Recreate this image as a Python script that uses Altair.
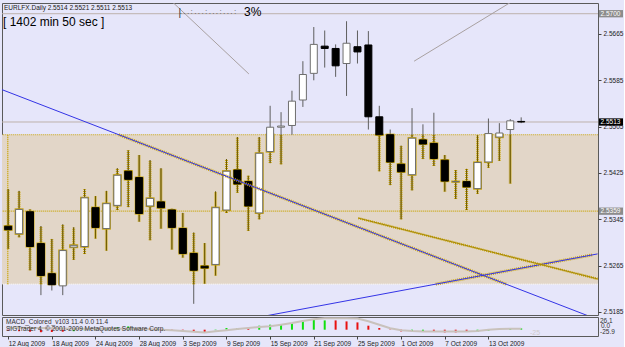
import altair as alt
import pandas as pd

# ---------------- data ----------------
dates = ["12 Aug 2009","13 Aug 2009","14 Aug 2009","17 Aug 2009","18 Aug 2009","19 Aug 2009",
         "20 Aug 2009","21 Aug 2009","24 Aug 2009","25 Aug 2009","26 Aug 2009","27 Aug 2009",
         "28 Aug 2009","31 Aug 2009","1 Sep 2009","2 Sep 2009","3 Sep 2009","4 Sep 2009",
         "7 Sep 2009","8 Sep 2009","9 Sep 2009","10 Sep 2009","11 Sep 2009","14 Sep 2009",
         "15 Sep 2009","16 Sep 2009","17 Sep 2009","18 Sep 2009","21 Sep 2009","22 Sep 2009",
         "23 Sep 2009","24 Sep 2009","25 Sep 2009","28 Sep 2009","29 Sep 2009","30 Sep 2009",
         "1 Oct 2009","2 Oct 2009","5 Oct 2009","6 Oct 2009","7 Oct 2009","8 Oct 2009",
         "9 Oct 2009","12 Oct 2009","13 Oct 2009","14 Oct 2009","15 Oct 2009","16 Oct 2009"]

opens = [2.5333,2.5320,2.5358,2.5303,2.5251,2.5230,2.5297,2.5298,2.5365,2.5329,2.5369,2.5428,
         2.5417,2.5368,2.5375,2.5361,2.5329,2.5286,2.5264,2.5267,2.5361,2.5430,2.5410,2.5356,
         2.5462,2.5504,2.5507,2.5551,2.5597,2.5644,2.5640,2.5614,2.5643,2.5646,2.5522,2.5491,
         2.5440,2.5422,2.5482,2.5476,2.5447,2.5410,2.5410,2.5398,2.5444,2.5487,2.5500,2.5514]
highs = [2.5397,2.5394,2.5362,2.5333,2.5311,2.5336,2.5331,2.5397,2.5385,2.5394,2.5433,2.5464,
         2.5456,2.5447,2.5433,2.5363,2.5356,2.5322,2.5304,2.5393,2.5449,2.5487,2.5420,2.5487,
         2.5541,2.5530,2.5567,2.5618,2.5677,2.5671,2.5647,2.5687,2.5671,2.5670,2.5541,2.5500,
         2.5472,2.5537,2.5509,2.5529,2.5456,2.5430,2.5432,2.5490,2.5519,2.5511,2.5518,2.5521]
lows  = [2.5294,2.5314,2.5257,2.5214,2.5222,2.5214,2.5275,2.5285,2.5312,2.5291,2.5361,2.5366,
         2.5341,2.5309,2.5329,2.5293,2.5279,2.5199,2.5234,2.5248,2.5356,2.5391,2.5325,2.5345,
         2.5442,2.5440,2.5491,2.5539,2.5585,2.5607,2.5591,2.5558,2.5614,2.5500,2.5428,2.5404,
         2.5345,2.5395,2.5449,2.5437,2.5393,2.5380,2.5361,2.5389,2.5434,2.5446,2.5407,2.5511]
closes = [2.5327,2.5362,2.5298,2.5248,2.5232,2.5291,2.5300,2.5382,2.5331,2.5372,2.5421,2.5414,
          2.5355,2.5381,2.5365,2.5331,2.5286,2.5257,2.5261,2.5365,2.5428,2.5406,2.5368,2.5459,
          2.5504,2.5506,2.5549,2.5595,2.5647,2.5640,2.5610,2.5649,2.5634,2.5522,2.5491,2.5444,
          2.5427,2.5485,2.5475,2.5450,2.5411,2.5410,2.5401,2.5443,2.5493,2.5494,2.5515,2.5513]

macd_hist = [-1.0,-1.5,-2.0,-2.5,-2.3,-2.0,-1.5,-0.5,0.5,1.5,2.5,3.3,
             1.5,1.2,0.8,0.3,-0.7,-1.7,-2.3,-0.5,1.7,1.7,1.5,4.0,
             5.0,5.2,6.7,9.3,10.0,9.3,9.3,8.3,7.3,4.0,1.7,-0.3,
             -1.7,-1.7,-1.7,-2.3,-2.7,-2.7,-2.3,-2.3,-1.0,0.5,1.0,1.3]
macd_color = ["r","r","r","r","r","r","g","g","g","g","g","g",
              "r","r","r","r","r","r","r","g","g","g","r","g",
              "g","g","g","g","g","g","r","r","r","r","r","r",
              "r","g","g","r","r","r","r","g","g","g","g","g"]
macd_signal = [2.0,2.0,1.8,1.6,1.4,1.2,1.0,1.0,1.0,1.0,1.0,1.0,
               0.8,0.5,0.0,-0.5,-1.3,-2.0,-2.7,-1.5,-0.5,0.7,1.7,2.7,
               3.5,5.0,6.7,8.8,10.5,11.5,11.5,11.5,11.2,8.5,5.0,1.5,
               -0.5,-1.3,-1.7,-1.7,-1.7,-1.7,-1.7,-1.2,0.0,0.7,1.0,1.0]

price_ticks = [2.5185,2.5225,2.5265,2.5305,2.5345,2.5385,2.5425,2.5465,2.5505,
               2.5545,2.5585,2.5625,2.5665,2.5705]
rect_lo, rect_hi = 2.5233, 2.5491
level_359 = 2.5359
gray_levels = [2.5700, 2.5513]
box_text = ["2.5700", "2.5513", "2.5359"]
box_price = [2.5700, 2.5513, 2.5359]
box_fill = ["#8c8c8c", "#000000", "#8c8c8c"]

# trend lines: (bar index, price) end points
trend_gray = [(14.5, 2.5730, 22.05, 2.5596), (37.19, 2.5618, 46.5, 2.5725)]
trend_blue = [(-1.0, 2.5572, 54.0, 2.5172), (20.0, 2.51655, 54.0, 2.52852)]
trend_gold = [(32.08, 2.5347, 54.0, 2.5242)]

# ---------------- layout constants ----------------
W, H, HM = 596, 312, 19
XDOM = [-0.108, 53.58]
PDOM = [2.51797, 2.57185]
MDOM = [-6.3, 12.7]
LAV = "#E6E6FA"
BEIGE = "#E2D6C8"
GOLD = "#C9A50A"
FONT = "Liberation Sans"

xs = alt.Scale(domain=XDOM, nice=False, zero=False)
ys = alt.Scale(domain=PDOM, nice=False, zero=False)

df = pd.DataFrame({"i": range(len(dates)), "date": dates, "open": opens,
                   "high": highs, "low": lows, "close": closes})
df["top"] = df[["open", "close"]].max(axis=1)
df["bot"] = df[["open", "close"]].min(axis=1)
df["bull"] = df["close"] >= df["open"]
df["fill"] = df["bull"].map({True: "#ffffff", False: "#000000"})
df["stroke"] = df["bull"].map({True: "#6e6e6e", False: "#000000"})
df["wlo"] = df["low"].clip(lower=rect_lo)
df["whi"] = df["high"].clip(upper=rect_hi)
df_w = df[df["wlo"] < df["whi"]].copy()
df["blo"] = df["bot"].clip(lower=rect_lo)
df["bhi"] = df["top"].clip(upper=rect_hi)
df_b = df[df["blo"] <= df["bhi"]].copy()
df_b["hlo"] = df_b["blo"] - 0.00019
df_b["hhi"] = df_b["bhi"] + 0.00019

X = alt.X("i:Q", scale=xs, axis=None)


def seg_df(segs):
    return pd.DataFrame([{"x1": a, "p1": b, "x2": c, "p2": d} for a, b, c, d in segs])


def clip_seg(x1, p1, x2, p2, lo, hi, xmin, xmax):
    t0, t1 = 0.0, 1.0
    dx, dp = x2 - x1, p2 - p1
    for q, r in ((-dx, x1 - xmin), (dx, xmax - x1), (-dp, p1 - lo), (dp, hi - p1)):
        if q == 0:
            if r < 0:
                return None
        else:
            t = r / q
            if q < 0:
                t0 = max(t0, t)
            else:
                t1 = min(t1, t)
    if t0 >= t1:
        return None
    return (x1 + t0 * dx, p1 + t0 * dp, x1 + t1 * dx, p1 + t1 * dp)


halo = [clip_seg(*s, rect_lo, rect_hi, XDOM[0], XDOM[1]) for s in trend_blue]
halo = [h for h in halo if h is not None]


def seg_layer(d, color, width, dash=None):
    kw = dict(color=color, strokeWidth=width, clip=True)
    if dash:
        kw["strokeDash"] = dash
    return alt.Chart(d).mark_rule(**kw).encode(
        x=alt.X("x1:Q", scale=xs, axis=None), x2="x2:Q",
        y=alt.Y("p1:Q", scale=ys), y2="p2:Q")


def hline(prices, color, dash=None, width=1):
    d = pd.DataFrame({"x1": [-1] * len(prices), "x2": [60] * len(prices),
                      "p1": prices, "p2": prices})
    return seg_layer(d, color, width, dash)


rect_df = pd.DataFrame({"x1": [-1], "x2": [60], "p1": [rect_lo], "p2": [rect_hi]})
rect = alt.Chart(rect_df).mark_rect(color=BEIGE, clip=True).encode(
    x=alt.X("x1:Q", scale=xs, axis=None), x2="x2:Q",
    y=alt.Y("p1:Q", scale=ys), y2="p2:Q")
rect_left = seg_df([(-0.04, rect_lo, -0.04, rect_hi)])

yaxis = alt.Axis(orient="right", values=price_ticks, format=".4f", title=None,
                 labelFontSize=6.5, labelColor="#222222", labelFont=FONT,
                 tickSize=3, tickColor="#444444", domain=False, grid=False,
                 labelPadding=2, labelFlush=False, labelOverlap=False)

wick = alt.Chart(df).mark_rule(color="#5e5e5e", strokeWidth=1, clip=True).encode(
    x=X, y=alt.Y("low:Q", scale=ys, axis=yaxis), y2="high:Q")
wick_halo = alt.Chart(df_w).mark_rule(color=GOLD, strokeWidth=3, strokeDash=[1, 1], clip=True).encode(
    x=X, y=alt.Y("wlo:Q", scale=ys), y2="whi:Q")
wick_core = alt.Chart(df_w).mark_rule(color="#6f5c00", strokeWidth=1, clip=True).encode(
    x=X, y=alt.Y("wlo:Q", scale=ys), y2="whi:Q")
body_halo = alt.Chart(df_b).mark_bar(size=9, color=GOLD, clip=True).encode(
    x=X, y=alt.Y("hlo:Q", scale=ys), y2="hhi:Q")
body = alt.Chart(df).mark_bar(size=7, strokeWidth=1, clip=True).encode(
    x=X, y=alt.Y("bot:Q", scale=ys), y2="top:Q",
    fill=alt.Fill("fill:N", scale=None), stroke=alt.Stroke("stroke:N", scale=None))


def txt(s, x, y, size, color="#101010", align="left", baseline="middle"):
    return alt.Chart(pd.DataFrame({"t": [s]})).mark_text(
        align=align, baseline=baseline, fontSize=size, font=FONT, color=color
    ).encode(x=alt.value(x), y=alt.value(y), text="t:N")


box_df = pd.DataFrame({"t": box_text, "p": box_price, "f": box_fill})
box_df["lo"] = box_df["p"] - 0.00063
box_df["hi"] = box_df["p"] + 0.00063
boxes = alt.Chart(box_df).mark_rect().encode(
    x=alt.value(597), x2=alt.value(621),
    y=alt.Y("lo:Q", scale=ys), y2="hi:Q", fill=alt.Fill("f:N", scale=None))
box_txt = alt.Chart(box_df).mark_text(align="left", baseline="middle", fontSize=6.5,
                                      font=FONT, color="white").encode(
    x=alt.value(598.5), y=alt.Y("p:Q", scale=ys), text="t:N")

price = alt.layer(
    rect,
    hline([rect_hi], GOLD, [1, 1]),
    hline([rect_lo], "#ffffff", [1, 1]),
    seg_layer(rect_left, GOLD, 1.5, [1, 1]),
    hline([level_359], GOLD, [1, 1], 1.2),
    hline(gray_levels, "#bdb2ac"),
    seg_layer(seg_df(trend_gray), "#a8a0a0", 1),
    wick, wick_halo, wick_core, body_halo, body,
    seg_layer(seg_df(halo), GOLD, 3, [1, 1]),
    seg_layer(seg_df(trend_blue), "#3434E6", 1),
    seg_layer(seg_df(trend_gold), GOLD, 2.4, [1, 1]),
    seg_layer(seg_df(trend_gold), "#a88900", 1),
    boxes, box_txt,
    txt("EURLFX.Daily  2.5514 2.5521 2.5511 2.5513", 2, 4.5, 6.5, "#202020"),
    txt("[ 1402 min 50 sec ]", 1, 18.5, 12, "#000000"),
    txt("|", 176.5, 13, 10, "#303030", baseline="alphabetic"),
    txt(". . . : . . . : . . . : . . . :", 178, 10.5, 6.5, "#303030", baseline="alphabetic"),
    txt("3%", 242, 8.5, 12, "#000000"),
).properties(width=W, height=H)

# ---------------- MACD sub-window ----------------
mdf = pd.DataFrame({"i": range(len(dates)), "h": macd_hist, "c": macd_color, "s": macd_signal})
ms = alt.Scale(domain=MDOM, nice=False, zero=False)
tick_idx = list(range(0, len(dates), 4))
label_expr = "[" + ",".join("'%s'" % d for d in dates) + "][datum.value]"
xaxis = alt.Axis(values=tick_idx, labelExpr=label_expr, title=None, labelAlign="left",
                 labelBaseline="top", labelFontSize=6.5, labelFont=FONT, labelColor="#222222",
                 labelPadding=1, tickSize=3, tickColor="#444444", domain=False,
                 grid=False, labelFlush=False, labelOverlap=False, labelBound=False)

hist = alt.Chart(mdf).mark_bar(size=2, clip=True).encode(
    x=alt.X("i:Q", scale=xs, axis=xaxis),
    y=alt.Y("h:Q", scale=ms, axis=None),
    color=alt.Color("c:N", scale=alt.Scale(domain=["g", "r"], range=["#10E010", "#E81010"]), legend=None))
sig = alt.Chart(mdf).mark_line(color="#c9c2bc", strokeWidth=2, clip=True).encode(
    x=alt.X("i:Q", scale=xs), y=alt.Y("s:Q", scale=ms))

macd = alt.layer(
    hist, sig,
    txt("MACD_Colored_v103 11.4 0.0 11.4", 4, 5, 6.5, "#303030"),
    txt("SIGTrader 4, \u00a9 2001-2009 MetaQuotes Software Corp.", 4, 12, 6.5, "#303030"),
    txt("-25", 528, 16, 7, "#cfcaca"),
    txt("26.1", 598, 4, 6.5, "#333333"),
    txt("0.0", 599, 9, 6.5, "#333333"),
    txt("-25.9", 598, 15, 6.5, "#333333"),
).properties(width=W, height=HM)

chart = alt.vconcat(price, macd, spacing=2, bounds="flush").properties(
    padding={"left": 1, "top": 2, "right": 0, "bottom": 0}
).configure(background=LAV).configure_view(stroke="#5a5a5a", strokeWidth=1, fill=LAV)

chart.save("out.html", embed_options={"renderer": "svg", "actions": False})
